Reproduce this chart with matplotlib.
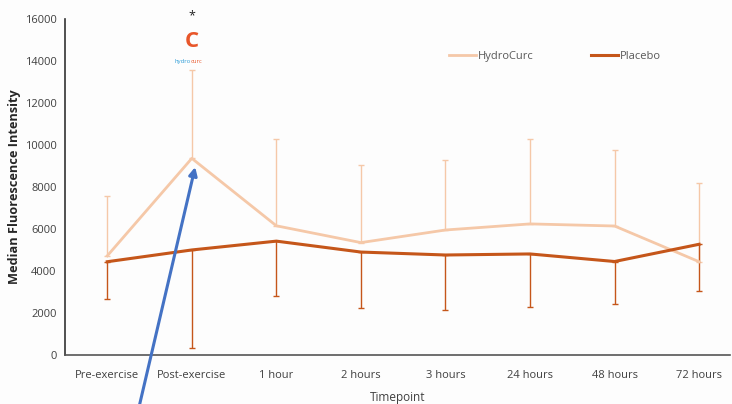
import numpy as np
import matplotlib
matplotlib.use("Agg")
import matplotlib.pyplot as plt

# data
timepoints = ["Pre-exercise", "Post-exercise", "1 hour", "2 hours",
              "3 hours", "24 hours", "48 hours", "72 hours"]
hydrocurc = [4720, 9360, 6150, 5350, 5950, 6240, 6140, 4440]
hydrocurc_upper = [7570, 13580, 10290, 9050, 9290, 10270, 9780, 8200]
placebo = [4440, 5000, 5420, 4900, 4760, 4810, 4450, 5270]
placebo_lower = [2680, 350, 2830, 2260, 2150, 2280, 2420, 3060]

hc_color = "#F5C8A8"
pl_color = "#C5561A"
text_color = "#404040"

plt.rcParams['font.family'] = ['Open Sans', 'DejaVu Sans']

fig = plt.figure(figsize=(7.32, 4.04), dpi=100)
fig.patch.set_facecolor("#FDFDFD")
ax = fig.add_axes([0.0888, 0.1213, 0.909, 0.832])
ax.set_facecolor("#FDFDFD")

x = np.arange(len(timepoints))
hc = np.array(hydrocurc)
pl = np.array(placebo)

# error bars: upper only for HydroCurc, lower only for placebo
ax.errorbar(x, hc, yerr=[np.zeros_like(hc), np.array(hydrocurc_upper) - hc],
            fmt="none", ecolor=hc_color, elinewidth=1.0, capsize=2.5, capthick=1.0, zorder=2)
ax.errorbar(x, pl, yerr=[pl - np.array(placebo_lower), np.zeros_like(pl)],
            fmt="none", ecolor=pl_color, elinewidth=1.0, capsize=2.5, capthick=1.0, zorder=2)

ax.plot(x, hc, color=hc_color, linewidth=2.0, label="HydroCurc", zorder=3)
ax.plot(x, pl, color=pl_color, linewidth=2.2, label="Placebo", zorder=3)

ax.set_xlim(-0.5, 7.37)
ax.set_ylim(0, 16000)
ax.set_yticks(np.arange(0, 16001, 2000))
ax.set_xticks(x)
ax.set_xticklabels(timepoints)
ax.tick_params(axis="both", length=0, labelsize=8, colors=text_color)
ax.tick_params(axis="x", pad=11)
ax.tick_params(axis="y", pad=6)

for s in ["top", "right"]:
    ax.spines[s].set_visible(False)
ax.spines["left"].set_color("#333333")
ax.spines["bottom"].set_color("#555555")
ax.spines["left"].set_linewidth(1.2)
ax.spines["bottom"].set_linewidth(1.2)

ax.set_ylabel("Median Fluorescence Intensity", fontsize=9.2, fontweight="bold",
              color="#262626", labelpad=3)
ax.set_xlabel("Timepoint", fontsize=8.5, color=text_color, labelpad=7)

# legend drawn as two side-by-side entries
ax.legend(loc="upper left", bbox_to_anchor=(0.562, 0.935), ncol=2, frameon=False,
          fontsize=8, labelcolor="#595959", handlelength=2.4, handletextpad=0.2,
          columnspacing=5.2)

# significance marker and logo-like annotation above the post-exercise point
ax.text(1, 16130, "*", ha="center", va="center", fontsize=9, color="#222222",
        clip_on=False)
ax.text(1, 14900, "C", ha="center", va="center", fontsize=16, fontweight="bold",
        color="#E8562A")
ax.text(0.985, 13950, "hydro", ha="right", va="center", fontsize=4.2, color="#2A9BD6")
ax.text(0.985, 13950, "curc", ha="left", va="center", fontsize=4.2, color="#E8562A")

# blue arrow pointing at the post-exercise peak
ax.annotate("", xy=(1.04, 8950), xytext=(0.38, -2400),
            xycoords="data", textcoords="data",
            arrowprops=dict(arrowstyle="-|>", color="#4472C4", lw=2.2,
                            mutation_scale=12, shrinkA=0, shrinkB=0),
            annotation_clip=False, zorder=5)

fig.savefig("out.png", dpi=100, facecolor=fig.get_facecolor())
